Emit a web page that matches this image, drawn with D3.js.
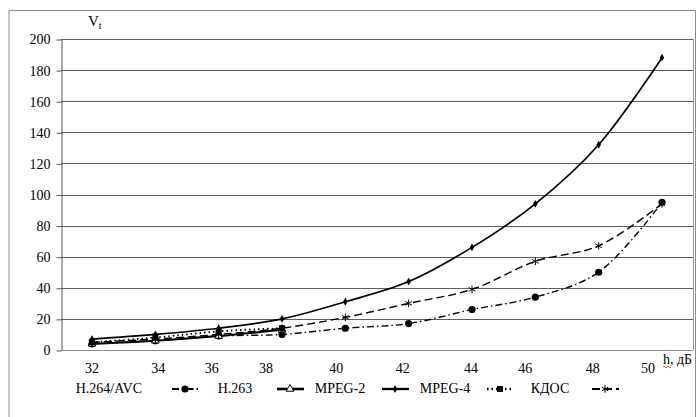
<!DOCTYPE html>
<html>
<head>
<meta charset="utf-8">
<script src="https://cdn.jsdelivr.net/npm/d3@7.9.0/dist/d3.min.js"></script>
<style>
  body { margin: 0; background: #fff; }
  svg text { font-family: "Liberation Serif", "Times New Roman", Times, serif !important; }
</style>
</head>
<body>
<script>
// h, dB categories
const hValues = [32, 34, 36, 38, 40, 42, 44, 46, 48, 50];
const yTicks = [0, 20, 40, 60, 80, 100, 120, 140, 160, 180, 200];

// series values
const h264 = [4, 6, 9, 10, 14, 17, 26, 34, 50, 95];
const h263 = [4, 6, 9, 13];
const mpeg2 = [7, 10, 14, 20, 31, 44, 66, 94, 132, 188];
const mpeg4 = [5, 8, 12, 14];
const kdos = [5, 7, 10, 14, 21, 30, 39, 57, 67, 94];

// tick labels in the source sit slightly off their categories
const tickNudge = [0, 3, -7, -16, -9, -6, -1, -10, -6, -14];

const width = 696, height = 417;
const margin = { top: 39, right: 3, bottom: 67, left: 61 };

const svg = d3.select("body").append("svg").attr("width", width).attr("height", height);

// outer frame
svg.append("path")
  .attr("d", "M9,418 V10.5 H695.5 V418")
  .attr("fill", "none").attr("stroke", "#8c8c8c").attr("stroke-width", 1);

const x = d3.scalePoint().domain(hValues).range([92, 662]);
const y = d3.scaleLinear().domain([0, 200]).range([height - margin.bottom, margin.top]);

// gridlines
svg.append("g")
  .selectAll("line").data(yTicks.slice(1)).enter().append("line")
  .attr("x1", margin.left).attr("x2", width - margin.right)
  .attr("y1", d => Math.round(y(d)) + 0.5).attr("y2", d => Math.round(y(d)) + 0.5)
  .attr("stroke", "#5e5e5e").attr("stroke-width", 1);

// right plot border
svg.append("line")
  .attr("x1", width - margin.right + 0.5).attr("x2", width - margin.right + 0.5)
  .attr("y1", margin.top).attr("y2", y(0))
  .attr("stroke", "#9a9a9a");

// y axis
const yAxis = svg.append("g")
  .attr("transform", `translate(${margin.left + 0.5},0.5)`)
  .call(d3.axisLeft(y).tickValues(yTicks).tickSize(5).tickPadding(6).tickSizeOuter(0));
yAxis.select(".domain").attr("stroke", "#555");
yAxis.selectAll(".tick line").attr("stroke", "#555");
yAxis.selectAll("text").attr("font-size", 14).attr("fill", "#000");

// x axis baseline
svg.append("line")
  .attr("x1", margin.left).attr("x2", width - margin.right)
  .attr("y1", Math.round(y(0)) + 0.5).attr("y2", Math.round(y(0)) + 0.5)
  .attr("stroke", "#8c8c8c");

// x tick labels
svg.append("g").selectAll("text").data(hValues).enter().append("text")
  .attr("x", (d, i) => x(d) + tickNudge[i])
  .attr("y", 373)
  .attr("text-anchor", "middle")
  .attr("font-size", 14)
  .text(d => d);

// axis titles
const vt = svg.append("text").attr("x", 88).attr("y", 26).attr("font-size", 15);
vt.append("tspan").text("V");
vt.append("tspan").attr("font-size", 10).attr("dy", 3).text("t");

svg.append("text").attr("x", 663).attr("y", 364).attr("font-size", 14).text("h, дБ");
svg.append("path")
  .attr("d", "M663,367 q1,-1.5 2,0 t2,0 t2,0 t2,0")
  .attr("fill", "none").attr("stroke", "#e02020").attr("stroke-width", 0.8);

// series definitions
const series = [
  { name: "H.264/AVC", values: h264, dash: "7,3,1.5,3", width: 1.4, marker: "circle" },
  { name: "H.263", values: h263, dash: null, width: 2, marker: "triangle" },
  { name: "MPEG-2", values: mpeg2, dash: null, width: 1.7, marker: "diamond" },
  { name: "MPEG-4", values: mpeg4, dash: "1.5,3", width: 1.8, marker: "square" },
  { name: "КДОС", values: kdos, dash: "8,4", width: 1.4, marker: "star" }
];

const line = d3.line().x(d => x(d.h)).y(d => y(d.v)).curve(d3.curveCatmullRom.alpha(0.5));

function drawMarker(g, type, cx, cy) {
  if (type === "circle") {
    g.append("circle").attr("cx", cx).attr("cy", cy).attr("r", 3.6).attr("fill", "#000");
  } else if (type === "triangle") {
    g.append("path").attr("d", d3.symbol(d3.symbolTriangle, 26)())
      .attr("transform", `translate(${cx},${cy})`)
      .attr("fill", "#fff").attr("stroke", "#000").attr("stroke-width", 1);
  } else if (type === "diamond") {
    g.append("path").attr("d", d3.symbol(d3.symbolDiamond, 18)())
      .attr("transform", `translate(${cx},${cy})`).attr("fill", "#000");
  } else if (type === "square") {
    g.append("rect").attr("x", cx - 3).attr("y", cy - 3).attr("width", 6).attr("height", 6).attr("fill", "#000");
  } else if (type === "star") {
    g.append("path").attr("d", d3.symbol(d3.symbolAsterisk, 40)())
      .attr("transform", `translate(${cx},${cy})`)
      .attr("fill", "none").attr("stroke", "#000").attr("stroke-width", 1);
  }
}

series.forEach(s => {
  const pts = s.values.map((v, i) => ({ h: hValues[i], v }));
  const g = svg.append("g");
  g.append("path").datum(pts)
    .attr("d", line)
    .attr("fill", "none").attr("stroke", "#000")
    .attr("stroke-width", s.width)
    .attr("stroke-dasharray", s.dash);
  pts.forEach(p => drawMarker(g, s.marker, x(p.h), y(p.v)));
});

// legend: label followed by its line symbol
const legendY = 389;
const symStart = d3.scaleLinear().domain([0, 1]).range([172, 277]);
series.forEach((s, i) => {
  const sx = symStart(i);
  const g = svg.append("g");
  g.append("line")
    .attr("x1", sx).attr("x2", sx + 27)
    .attr("y1", legendY).attr("y2", legendY)
    .attr("stroke", "#000").attr("stroke-width", s.width + 0.6)
    .attr("stroke-dasharray", s.dash);
  drawMarker(g, s.marker, sx + 13, legendY);
  const t = g.append("text").attr("y", legendY + 4).attr("font-size", 14).text(s.name);
  if (i === 0) t.attr("x", sx - 30).attr("text-anchor", "end");
  else t.attr("x", sx - 42).attr("text-anchor", "middle");
});
</script>
</body>
</html>
